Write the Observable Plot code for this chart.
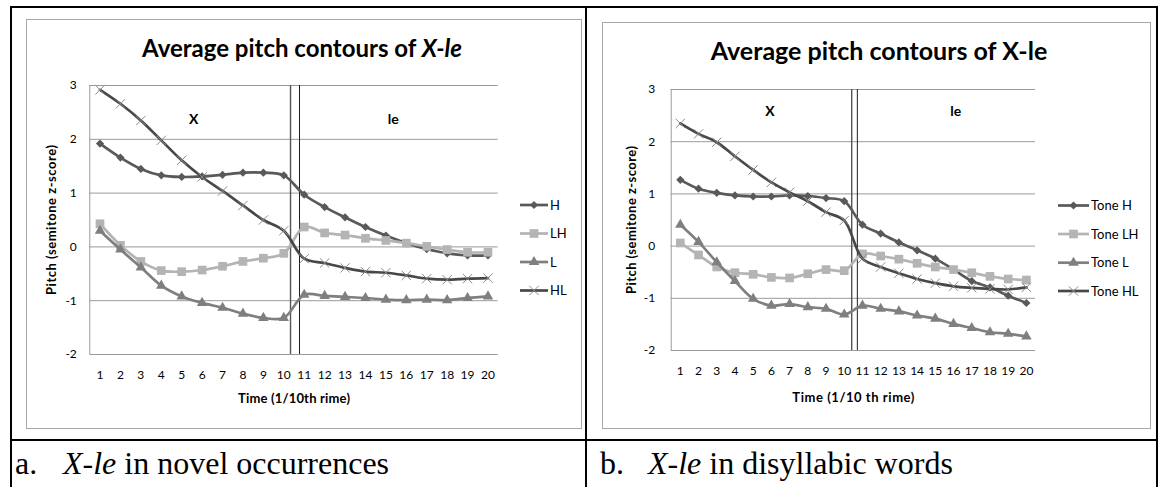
<!DOCTYPE html>
<html>
<head>
<meta charset="utf-8">
<script src="https://cdn.jsdelivr.net/npm/d3@7"></script>
<script src="https://cdn.jsdelivr.net/npm/@observablehq/plot@0.6"></script>
<style>
  html, body { margin: 0; padding: 0; background: #fff; }
  body { width: 1160px; height: 487px; overflow: hidden; position: relative; }
  .layer { position: absolute; left: 0; top: 0; }
  .plotbox { position: absolute; }
  .plotbox svg { overflow: visible; }
</style>
</head>
<body>
<svg id="overlay" class="layer" width="1160" height="487"></svg>
<div id="plotA" class="plotbox"></div>
<div id="plotB" class="plotbox"></div>
<script>
// ---------------- data ----------------
const timeSteps = [1, 2, 3, 4, 5, 6, 7, 8, 9, 10, 11, 12, 13, 14, 15, 16, 17, 18, 19, 20];
const yTicks = [-2, -1, 0, 1, 2, 3];

const seriesA = ["H", "LH", "L", "HL"];
const seriesB = ["Tone H", "Tone LH", "Tone L", "Tone HL"];

// Panel a: X-le in novel occurrences
const aH  = [1.92, 1.66, 1.45, 1.33, 1.30, 1.31, 1.34, 1.38, 1.38, 1.33, 0.97, 0.74, 0.55, 0.37, 0.21, 0.07, -0.04, -0.12, -0.16, -0.16];
const aLH = [0.43, 0.03, -0.27, -0.44, -0.46, -0.43, -0.36, -0.27, -0.21, -0.12, 0.37, 0.26, 0.22, 0.16, 0.12, 0.07, 0.01, -0.05, -0.10, -0.10];
const aL  = [0.30, -0.05, -0.38, -0.72, -0.92, -1.04, -1.13, -1.24, -1.32, -1.32, -0.89, -0.91, -0.93, -0.95, -0.98, -0.99, -0.98, -0.99, -0.95, -0.92];
const aHL = [2.92, 2.66, 2.35, 1.98, 1.61, 1.30, 1.04, 0.77, 0.50, 0.30, -0.22, -0.30, -0.39, -0.46, -0.48, -0.53, -0.59, -0.61, -0.59, -0.58];

// Panel b: X-le in disyllabic words
const bH  = [1.27, 1.10, 1.02, 0.97, 0.95, 0.95, 0.97, 0.96, 0.92, 0.86, 0.41, 0.24, 0.07, -0.08, -0.24, -0.45, -0.67, -0.79, -0.95, -1.09];
const bLH = [0.06, -0.17, -0.40, -0.51, -0.54, -0.60, -0.61, -0.53, -0.45, -0.47, -0.15, -0.19, -0.25, -0.33, -0.40, -0.45, -0.51, -0.58, -0.63, -0.65];
const bL  = [0.41, 0.08, -0.31, -0.67, -1.01, -1.14, -1.11, -1.17, -1.20, -1.31, -1.14, -1.20, -1.25, -1.33, -1.39, -1.49, -1.57, -1.65, -1.68, -1.73];
const bHL = [2.35, 2.15, 1.99, 1.72, 1.46, 1.22, 1.03, 0.86, 0.65, 0.49, -0.24, -0.40, -0.52, -0.63, -0.71, -0.77, -0.80, -0.82, -0.83, -0.79];

// syllable boundary (double vertical line) positions on the time axis
const dividersA = [10.33, 10.77];
const dividersB = [10.41, 10.72];

// syllable labels
const segLabels = ["X", "le"];
const segAx = [5.59, 15.36], segAy = [2.36, 2.36];
const segBx = [5.92, 16.12], segBy = [2.57, 2.57];

// texts
const titleMain = "Average pitch contours of ";
const titleTail = "X-le";
const yLabel = "Pitch (semitone z-score)";
const xLabelA = "Time (1/10th rime)";
const xLabelB = "Time (1/10 th rime)";
const captionA = ["a.", "X-le", " in novel occurrences"];
const captionB = ["b.", "X-le", " in disyllabic words"];

// ---------------- styles ----------------
const xDomain = [0.5, 20.5];
const yDomain = [-2, 3];
const styles = [
  {color: "#595959", symbol: "diamond2", d3sym: d3.symbolDiamond2, r: 3.7, filled: true},
  {color: "#b4b4b4", symbol: "square",   d3sym: d3.symbolSquare,   r: 4.9, filled: true},
  {color: "#7f7f7f", symbol: "triangle", d3sym: d3.symbolTriangle, r: 3.9, filled: true},
  {color: "#484848", symbol: "times",    d3sym: d3.symbolTimes,    r: 4.3, filled: false, mark: "#8a8a8a"}
];
const FONT = "Lato, 'Open Sans', sans-serif";
const SERIF = "'Liberation Serif', 'Times New Roman', serif";

function tidy(names, arrays) {
  return names.map((n, i) => arrays[i].map((v, j) => ({t: timeSteps[j], v, s: n})));
}

function makePanel(el, cfg) {
  const {frame, plot, rows, dividers, segX, segY, xLabel, tickPadX, tickPadY, xLabelDy, yLabelDx, yLabelLen, xLabelLen} = cfg;
  const W = frame.x1 - frame.x0, H = frame.y1 - frame.y0;
  const marks = [
    Plot.ruleY(yTicks, {stroke: "#9a9a9a", strokeWidth: 1}),
    Plot.ruleX([xDomain[0]], {stroke: "#9a9a9a", strokeWidth: 1}),
    Plot.ruleX([dividers[0]], {stroke: "#555", strokeWidth: 1.4}),
    Plot.ruleX([dividers[1]], {stroke: "#1e1e1e", strokeWidth: 1})
  ];
  rows.forEach((data, i) => {
    const st = styles[i];
    marks.push(Plot.line(data, {x: "t", y: "v", stroke: st.color, strokeWidth: 2.7, curve: "catmull-rom"}));
    if (st.filled) {
      marks.push(Plot.dot(data, {x: "t", y: "v", symbol: st.symbol, r: st.r, fill: st.color, stroke: "none"}));
    } else {
      marks.push(Plot.dot(data, {x: "t", y: "v", symbol: st.symbol, r: st.r, fill: "none", stroke: st.mark, strokeWidth: 1}));
    }
  });
  marks.push(Plot.text(segLabels, {x: (d, i) => segX[i], y: (d, i) => segY[i], text: d => d,
    fontWeight: "bold", fontSize: 14, fill: "#000"}));
  marks.push(Plot.text([yLabel], {frameAnchor: "left", dx: -yLabelDx, rotate: -90, text: d => d,
    textAnchor: "middle", lineAnchor: "middle", fontWeight: "bold", fontSize: 13, fill: "#000"}));
  marks.push(Plot.text([xLabel], {frameAnchor: "bottom", dy: xLabelDy, text: d => d,
    textAnchor: "middle", lineAnchor: "middle", fontWeight: "bold", fontSize: 13, fill: "#000"}));

  const chart = Plot.plot({
    width: W, height: H,
    marginLeft: plot.x0 - frame.x0, marginRight: frame.x1 - plot.x1,
    marginTop: plot.y0 - frame.y0, marginBottom: frame.y1 - plot.y1,
    x: {domain: xDomain, ticks: timeSteps, tickFormat: d => String(d), tickSize: 0, tickPadding: tickPadX, label: null},
    y: {domain: yDomain, ticks: yTicks, tickFormat: d => String(d), tickSize: 0, tickPadding: tickPadY, label: null},
    style: {fontFamily: FONT, fontSize: "12px", color: "#000", background: "transparent", overflow: "visible"},
    marks
  });
  // stretch the axis titles to the spacing seen in the original
  d3.select(chart).selectAll("text").each(function () {
    if (this.textContent === yLabel) d3.select(this).attr("textLength", yLabelLen).attr("lengthAdjust", "spacing");
    if (this.textContent === xLabel) d3.select(this).attr("textLength", xLabelLen).attr("lengthAdjust", "spacing");
  });
  el.style.left = frame.x0 + "px";
  el.style.top = frame.y0 + "px";
  el.appendChild(chart);
}

// ---------------- layout ----------------
const frameA = {x0: 26, y0: 19, x1: 581, y1: 428};
const plotAreaA = {x0: 89.3, y0: 85, x1: 497.7, y1: 354};
const frameB = {x0: 602, y0: 22, x1: 1150, y1: 428};
const plotAreaB = {x0: 670.7, y0: 89, x1: 1035, y1: 350};

makePanel(document.getElementById("plotA"), {
  frame: frameA, plot: plotAreaA, rows: tidy(seriesA, [aH, aLH, aL, aHL]),
  dividers: dividersA, segX: segAx, segY: segAy, xLabel: xLabelA,
  tickPadX: 16, tickPadY: 13, xLabelDy: 44.5, yLabelDx: 37.5, yLabelLen: 150, xLabelLen: 112
});
makePanel(document.getElementById("plotB"), {
  frame: frameB, plot: plotAreaB, rows: tidy(seriesB, [bH, bLH, bL, bHL]),
  dividers: dividersB, segX: segBx, segY: segBy, xLabel: xLabelB,
  tickPadX: 16, tickPadY: 16, xLabelDy: 47, yLabelDx: 39, yLabelLen: 148, xLabelLen: 122
});

// ---------------- overlay: table, frames, titles, legends, captions ----------------
const ov = d3.select("#overlay");
// chart frames
[[frameA], [frameB]].forEach(([f]) => {
  ov.append("rect").attr("x", f.x0 + 0.5).attr("y", f.y0 + 0.5)
    .attr("width", f.x1 - f.x0).attr("height", f.y1 - f.y0)
    .attr("fill", "none").attr("stroke", "#a8a8a8").attr("stroke-width", 1);
});
// table borders
const tb = ov.append("g").attr("stroke", "#000").attr("stroke-width", 2).attr("fill", "none");
tb.append("line").attr("x1", 10).attr("x2", 1158).attr("y1", 7).attr("y2", 7);
tb.append("line").attr("x1", 10).attr("x2", 1158).attr("y1", 440).attr("y2", 440);
tb.append("line").attr("x1", 11).attr("x2", 11).attr("y1", 6).attr("y2", 487);
tb.append("line").attr("x1", 586).attr("x2", 586).attr("y1", 6).attr("y2", 487);
tb.append("line").attr("x1", 1157).attr("x2", 1157).attr("y1", 6).attr("y2", 487);

// titles
function title(x, y, italicTail, size) {
  const t = ov.append("text").attr("x", x).attr("y", y).attr("text-anchor", "middle")
    .attr("font-family", FONT).attr("font-weight", "bold").attr("font-size", size).attr("fill", "#000");
  t.append("tspan").text(titleMain);
  t.append("tspan").attr("font-style", italicTail ? "italic" : "normal").text(titleTail);
}
title(302, 56.5, true, 24);
title(879, 60, false, 25);

// legends
function legend(names, x0, x1, ys, fontSize) {
  names.forEach((n, i) => {
    const st = styles[i];
    const g = ov.append("g");
    g.append("line").attr("x1", x0).attr("x2", x1).attr("y1", ys[i]).attr("y2", ys[i])
      .attr("stroke", st.color).attr("stroke-width", 2.7);
    const sym = d3.symbol(st.d3sym, Math.PI * st.r * st.r)();
    g.append("path").attr("d", sym).attr("transform", `translate(${(x0 + x1) / 2},${ys[i]})`)
      .attr("fill", st.filled ? st.color : "none").attr("stroke", st.filled ? "none" : st.mark);
    g.append("text").attr("x", x1 + 2).attr("y", ys[i]).attr("dy", "0.35em")
      .attr("font-family", FONT).attr("font-size", fontSize).attr("fill", "#000").text(n);
  });
}
legend(seriesA, 520, 548, [205, 233.5, 262, 290.5], 13);
legend(seriesB, 1058, 1089, [205.5, 234, 262.7, 291], 13);

// captions
function caption(parts, x0, x1, y) {
  ov.append("text").attr("x", x0).attr("y", y).attr("font-family", SERIF).attr("font-size", 32)
    .attr("fill", "#000").text(parts[0]);
  const t = ov.append("text").attr("x", x1).attr("y", y).attr("font-family", SERIF).attr("font-size", 32)
    .attr("fill", "#000");
  t.append("tspan").attr("font-style", "italic").text(parts[1]);
  t.append("tspan").text(parts[2]);
}
caption(captionA, 15, 63, 474);
caption(captionB, 600, 648, 474);
</script>
</body>
</html>
